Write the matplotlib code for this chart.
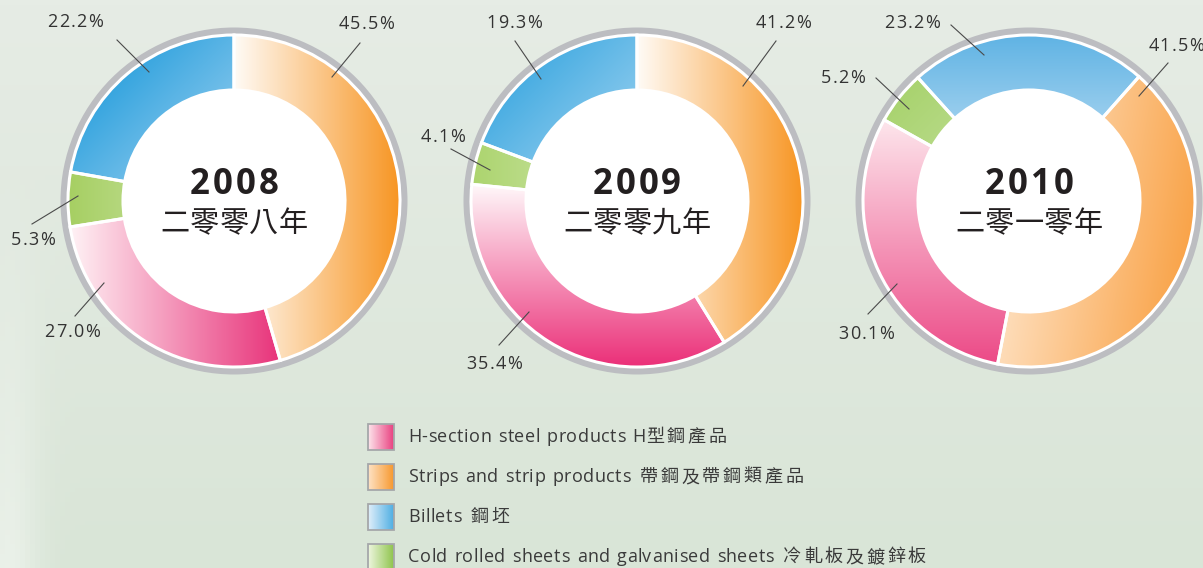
import numpy as np
import matplotlib.pyplot as plt
from matplotlib.patches import Wedge, Rectangle, Circle
from matplotlib.colors import to_rgb

# data (percent of sales volume)
years = ["2008", "2009", "2010"]
years_cn = ["二零零八年", "二零零九年", "二零一零年"]
categories = ["Strips", "H-section", "Cold rolled", "Billets"]  # clockwise order
strips = [45.5, 41.2, 41.5]
h_section = [27.0, 35.4, 30.1]
cold_rolled = [5.3, 4.1, 5.2]
billets = [22.2, 19.3, 23.2]

legend_labels = [
    "H-section steel products H型鋼產品",
    "Strips and strip products 帶鋼及帶鋼類產品",
    "Billets 鋼坯",
    "Cold rolled sheets and galvanised sheets 冷軋板及鍍鋅板",
]

W, H = 1203, 568
FONT = ["Open Sans", "Noto Sans CJK TC", "DejaVu Sans"]

fig = plt.figure(figsize=(W / 100, H / 100), dpi=100)
ax = fig.add_axes([0, 0, 1, 1])
ax.axis("off")
ax.set_xlim(0, W)
ax.set_ylim(0, H)
renderer = fig.canvas.get_renderer()


def py(y):
    return H - y


def text_w(s, **kw):
    t = ax.text(0, 0, s, **kw)
    w = t.get_window_extent(renderer).width
    t.remove()
    return w


def is_cjk(c):
    return ord(c) > 0x2E80


def tracked(x, y, s, latin=0.0, cjk=0.0, space=None, ha="left", **kw):
    # draw text char by char with extra letter spacing
    tr = []
    for k, c in enumerate(s):
        if c == " " and space is not None:
            nxt = s[k + 1] if k + 1 < len(s) else ""
            tr.append(space * 2 if is_cjk(nxt) else space)
        else:
            tr.append(cjk if is_cjk(c) else latin)
    wref = text_w("H", **kw)
    offs = [text_w(s[:k] + "H", **kw) - wref for k in range(len(s))]
    total = text_w(s, **kw) + sum(tr[:-1])
    x0 = x - total / 2 if ha == "center" else x
    acc = 0
    for k, c in enumerate(s):
        ax.text(x0 + offs[k] + acc, y, c, ha="left", **kw)
        acc += tr[k]


def gradient(patch, c0, c1, angle, z):
    v = patch.get_path().transformed(patch.get_patch_transform()).vertices
    a = np.radians(angle)
    u = np.array([np.cos(a), np.sin(a)])
    x0, y0 = v.min(0)
    x1, y1 = v.max(0)
    X, Y = np.meshgrid(np.linspace(x0, x1, 200), np.linspace(y0, y1, 200))
    pv = v @ u
    t = np.clip((X * u[0] + Y * u[1] - pv.min()) / (pv.max() - pv.min()), 0, 1)
    img = (1 - t)[..., None] * np.array(to_rgb(c0)) + t[..., None] * np.array(to_rgb(c1))
    im = ax.imshow(img, extent=[x0, x1, y0, y1], origin="lower", zorder=z,
                   interpolation="bilinear", aspect="auto")
    im.set_clip_path(patch)


# background
yy, xx = np.mgrid[0:1:120j, 0:1:240j]
top = np.array(to_rgb("#e6ece5"))
bot = np.array(to_rgb("#d9e5d7"))
bg = (1 - yy)[..., None] * bot + yy[..., None] * top
glow = np.exp(-((xx - 0.005) / 0.025) ** 2) * np.clip((0.7 - yy) / 0.7, 0, 1) * 0.45
bg = bg + glow[..., None] * (1 - bg)
ax.imshow(bg, extent=[0, W, 0, H], origin="lower", zorder=0, aspect="auto")

# layout
centers = [234, 637, 1029]
cy = py(201)
rotation = [0, 0, 41.5]
r_out, r_in = 166, 111

styles = [
    {"Strips": ("#fffbf6", "#f7931e", 0), "H-section": ("#fff2f5", "#e8337a", 0),
     "Cold rolled": ("#a6cf62", "#d3e8b6", 0), "Billets": ("#acd7f3", "#36a5df", 135)},
    {"Strips": ("#fffbf6", "#f7931e", 0), "H-section": ("#fff8fa", "#eb2f78", -90),
     "Cold rolled": ("#acd46e", "#d6eab9", 0), "Billets": ("#b2dbf4", "#48ade2", 135)},
    {"Strips": ("#fedcb8", "#f9a246", -10), "H-section": ("#fde6ec", "#ec4a87", -90),
     "Cold rolled": ("#a9d36f", "#c9e3a6", -45), "Billets": ("#5fb3e4", "#d4e8f7", -90)},
]

# label placement: anchor, line end, text (relative to chart centre, pixels)
label_pos = [
    {"Strips": ((98, -124), (126, -158), (132, -177)),
     "Billets": ((-85, -129), (-117, -161), (-159, -179)),
     "Cold rolled": ((-156, -5), (-202, 23), (-201, 39)),
     "H-section": ((-130, 82), (-159, 115), (-162, 131))},
    {"Strips": ((106, -115), (139, -160), (146, -178)),
     "Billets": ((-96, -122), (-122, -160), (-123, -178)),
     "Cold rolled": ((-147, -31), (-186, -52), (-194, -64)),
     "H-section": ((-108, 111), (-138, 144), (-143, 163))},
    {"Strips": ((110, -105), (139, -138), (147, -155)),
     "Billets": ((-45, -146), (-78, -176), (-117, -178)),
     "Cold rolled": ((-120, -92), (-153, -123), (-186, -123)),
     "H-section": ((-132, 83), (-161, 113), (-163, 133))},
]

for i, year in enumerate(years):
    cx = centers[i]
    vals = {"Strips": strips[i], "H-section": h_section[i],
            "Cold rolled": cold_rolled[i], "Billets": billets[i]}
    ax.add_patch(Wedge((cx, cy), 173.5, 0, 360, width=7.5, fc="#bcbdc1", ec="none", zorder=1))
    ax.add_patch(Circle((cx, cy), r_in, fc="white", ec="none", zorder=2))
    a0 = rotation[i]
    for cat in categories:
        a1 = a0 + vals[cat] * 3.6
        w = Wedge((cx, cy), r_out, 90 - a1, 90 - a0, width=r_out - r_in,
                  fc="none", ec="white", lw=2.2, zorder=4)
        ax.add_patch(w)
        c0, c1, ang = styles[i][cat]
        gradient(w, c0, c1, ang, 3)
        a0 = a1
        (axr, ayr), (exr, eyr), (txr, tyr) = label_pos[i][cat]
        ax.plot([cx + axr, cx + exr], [cy - ayr, cy - eyr], color="#4a4a4a", lw=0.8, zorder=5)
        tracked(cx + txr, cy - tyr, f"{vals[cat]:.1f}%", latin=1.2, ha="center",
                va="center", fontsize=13, color="#333333", family=FONT, zorder=6)
    tracked(cx, py(194), year, latin=3.0, ha="center", va="baseline", fontsize=25,
            fontweight="bold", color="#231f20", family=FONT, zorder=6)
    tracked(cx, py(232), years_cn[i], cjk=0.5, ha="center", va="baseline", fontsize=21,
            color="#231f20", family=FONT, zorder=6)

# legend
legend_cols = [("#fde6ec", "#e94080"), ("#fee3c6", "#f7982e"),
               ("#e1effa", "#4eaee3"), ("#eef6e0", "#8fc44c")]
for k, lab in enumerate(legend_labels):
    yc = py(437 + 40 * k)
    sq = Rectangle((368, yc - 13), 26, 26, fc="none", ec="#a5a7aa", lw=1.3, zorder=4)
    ax.add_patch(sq)
    gradient(sq, legend_cols[k][0], legend_cols[k][1], 0, 3)
    tracked(408, yc, lab, latin=0.5, cjk=2.8, space=2.0, va="center", fontsize=13,
            color="#3a3a3a", family=FONT, zorder=6)

ax.set_xlim(0, W)
ax.set_ylim(0, H)
fig.savefig("out.png", dpi=100)
